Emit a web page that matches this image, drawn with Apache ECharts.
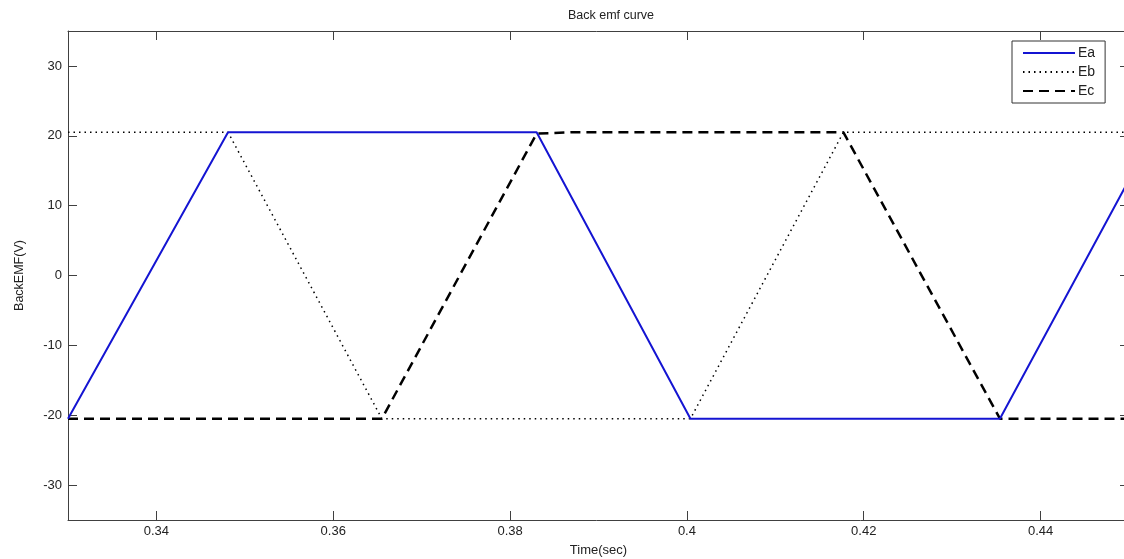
<!DOCTYPE html>
<html>
<head>
<meta charset="utf-8">
<script src="https://cdn.jsdelivr.net/npm/echarts@6/dist/echarts.min.js"></script>
<style>html,body{margin:0;padding:0;background:#fff}#c{width:1124px;height:559px}</style>
</head>
<body>
<div id="c"></div>
<script>
// Data: [time(sec), backEMF(V)]
const seriesNames = ['Ea', 'Eb', 'Ec'];
const ea = [[0.33, -20.5], [0.3481, 20.5], [0.383, 20.5], [0.4004, -20.5], [0.4354, -20.5], [0.45, 13.7]];
const eb = [[0.33, 20.5], [0.3481, 20.5], [0.3655, -20.5], [0.4004, -20.5], [0.4177, 20.5], [0.45, 20.5]];
const ec = [[0.33, -20.5], [0.3655, -20.5], [0.383, 20.3], [0.387, 20.5], [0.4177, 20.5], [0.4354, -20.5], [0.45, -20.5]];
const xTicks = [0.34, 0.36, 0.38, 0.4, 0.42, 0.44];
const yTicks = [-30, -20, -10, 0, 10, 20, 30];

const FONT = 'Liberation Sans, Arial, sans-serif';
const axisColor = '#404040';
const chart = echarts.init(document.getElementById('c'), null, {renderer: 'canvas'});

function xAx(pos, show) {
  return {
    type: 'value', position: pos, min: 0.33, max: 0.45,
    axisLine: {show: true, onZero: false, lineStyle: {color: axisColor, width: 1}},
    axisTick: {show: true, inside: true, length: 9, customValues: xTicks, lineStyle: {color: axisColor}},
    axisLabel: {show: show, customValues: xTicks, margin: 5, color: '#222', fontFamily: FONT, fontSize: 13,
      formatter: v => String(parseFloat(v.toFixed(4)))},
    splitLine: {show: false},
    name: show ? 'Time(sec)' : '', nameLocation: 'middle', nameGap: 24,
    nameTextStyle: {color: '#222', fontFamily: FONT, fontSize: 13}
  };
}
function yAx(pos, show) {
  return {
    type: 'value', position: pos, min: -35, max: 35,
    axisLine: {show: true, onZero: false, lineStyle: {color: axisColor, width: 1}},
    axisTick: {show: true, inside: true, length: 9, customValues: yTicks, lineStyle: {color: axisColor}},
    axisLabel: {show: show, customValues: yTicks, margin: 6, color: '#222', fontFamily: FONT, fontSize: 13},
    splitLine: {show: false},
    name: show ? 'BackEMF(V)' : '', nameLocation: 'middle', nameGap: 42, nameRotate: 90,
    nameTextStyle: {color: '#222', fontFamily: FONT, fontSize: 12.5}
  };
}

chart.setOption({
  animation: false,
  backgroundColor: '#fff',
  title: {
    text: 'Back emf curve', left: 606, top: 4, textAlign: 'center',
    textStyle: {fontFamily: FONT, fontSize: 12.5, fontWeight: 'normal', color: '#222'}
  },
  grid: {left: 68, top: 31, right: -5, bottom: 39, containLabel: false, outerBoundsMode: 'none'},
  legend: {
    orient: 'vertical', left: 1012, top: 41,
    backgroundColor: '#fff', borderColor: '#333', borderWidth: 1,
    padding: [5, 10, 5, 10], itemGap: 5, itemWidth: 52, itemHeight: 14,
    itemStyle: {opacity: 0},
    textStyle: {fontFamily: FONT, fontSize: 14, color: '#222', padding: [0, 0, 0, -2]},
    data: seriesNames
  },
  xAxis: [xAx('bottom', true), xAx('top', false)],
  yAxis: [yAx('left', true), yAx('right', false)],
  series: [
    {name: seriesNames[0], type: 'line', data: ea, symbol: 'none', z: 4,
      lineStyle: {color: '#1414d2', width: 2, type: 'solid'}, itemStyle: {color: '#1414d2'}},
    {name: seriesNames[1], type: 'line', data: eb, symbol: 'none', z: 2,
      lineStyle: {color: '#000', width: 1.5, type: [1.5, 4]}, itemStyle: {color: '#000'}},
    {name: seriesNames[2], type: 'line', data: ec, symbol: 'none', z: 3,
      lineStyle: {color: '#000', width: 2.5, type: [10, 6]}, itemStyle: {color: '#000'}}
  ]
});
</script>
</body>
</html>
